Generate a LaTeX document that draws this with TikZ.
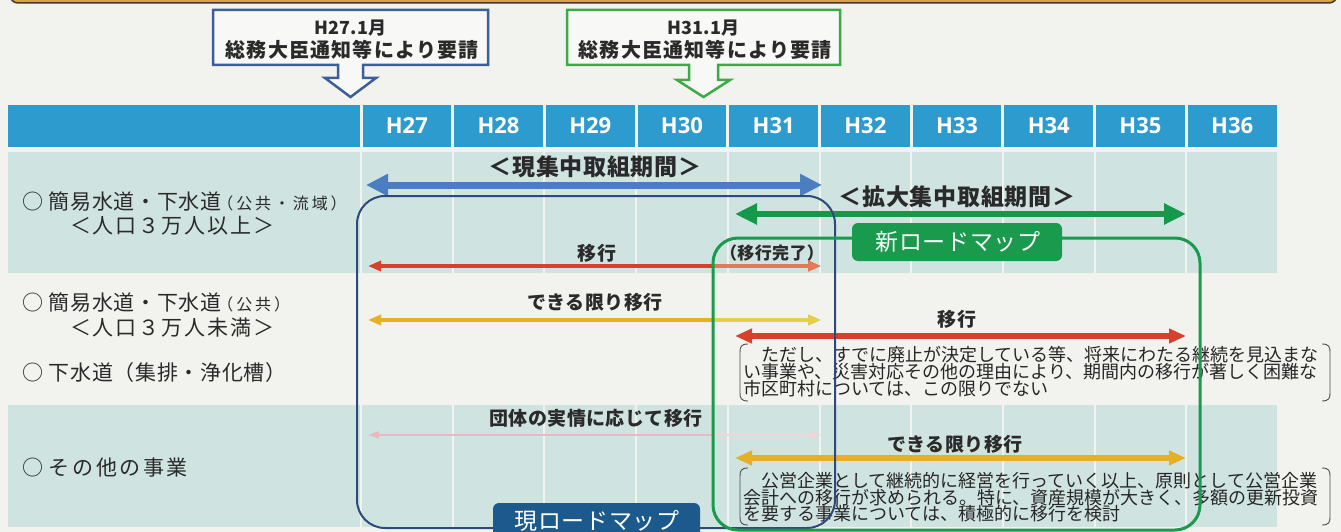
\documentclass[tikz,border=0pt]{standalone}
\usepackage{fontspec}
\setmainfont{Noto Sans CJK JP}
\newfontfamily\hdrfont{Open Sans}
\usetikzlibrary{arrows.meta}
\definecolor{paper}{HTML}{F2F2EE}
\definecolor{rowshade}{HTML}{CFE3E1}
\definecolor{hdrblue}{HTML}{2E9BCF}
\definecolor{coblue}{HTML}{3C5F97}
\definecolor{cogreen}{HTML}{3DAA4A}
\definecolor{arrblue}{HTML}{4A7EC0}
\definecolor{arrgreen}{HTML}{15984A}
\definecolor{boxblue}{HTML}{2C4A7A}
\definecolor{tagblue}{HTML}{1C5A8E}
\definecolor{boxgreen}{HTML}{1A9A4C}
\definecolor{arrred}{HTML}{D5412D}
\definecolor{arrorange}{HTML}{E27A58}
\definecolor{arryel}{HTML}{E6B024}
\definecolor{arryellight}{HTML}{E4D04C}
\definecolor{arrpink}{HTML}{E9B9C2}
\definecolor{arrpinklight}{HTML}{EFD6D9}
\definecolor{txt}{HTML}{2A2A2A}
\definecolor{gold}{HTML}{D7A548}
\definecolor{goldline}{HTML}{4A3B1E}
\begin{document}
\begin{tikzpicture}[x=1pt,y=-1pt,
  every node/.style={inner sep=0pt, outer sep=0pt, text=txt},
  hdrtxt/.style={font=\hdrfont\bfseries\fontsize{22}{22}\selectfont, text=white, anchor=base},
  rowlbl/.style={anchor=west, font=\fontsize{21}{21}\selectfont\addfontfeature{LetterSpace=3}},
  biglbl/.style={font=\bfseries\fontsize{23}{23}\selectfont\addfontfeature{LetterSpace=3}},
  midlbl/.style={font=\bfseries\fontsize{19}{19}\selectfont\addfontfeature{LetterSpace=2}},
  notetxt/.style={anchor=west, font=\fontsize{18}{18}\selectfont, text=black!85},
  cotitle/.style={font=\bfseries\fontsize{18}{18}\selectfont},
  cotext/.style={font=\bfseries\fontsize{20}{20}\selectfont\addfontfeature{LetterSpace=6}},
  tagtxt/.style={font=\fontsize{23}{23}\selectfont\addfontfeature{LetterSpace=3}, text=white},
  bracketline/.style={draw=black!70, line width=0.9pt},
  callout/.style={line width=2.5pt, fill=white!50!paper, line join=miter},
  bigbar/.style={line width=7pt, arrows={Triangle[length=22pt,width=21pt]-Triangle[length=22pt,width=21pt]}},
  greenbar/.style={draw=arrgreen, line width=6pt, arrows={Triangle[length=22pt,width=20pt]-Triangle[length=22pt,width=20pt]}},
  thinbar/.style={line width=4pt, arrows={Triangle[length=13pt,width=10pt]-Triangle[length=13pt,width=10pt]}},
  thinend/.style={line width=4pt, arrows={-Triangle[length=13pt,width=10pt]}},
  midbar/.style={line width=5.5pt, arrows={Triangle[length=17pt,width=14pt]-Triangle[length=17pt,width=14pt]}},
  faintbar/.style={line width=2.5pt, arrows={Triangle[length=11pt,width=7pt]-Triangle[length=11pt,width=7pt]}},
  faintend/.style={line width=2.5pt, arrows={-Triangle[length=11pt,width=7pt]}}
]
\useasboundingbox (0,0) rectangle (1341,532);
\clip (0,0) rectangle (1341,532);
\fill[paper] (0,0) rectangle (1341,532);
% top frame
\draw[fill=gold, draw=goldline, line width=1.5pt, rounded corners=8pt] (10,-30) rectangle (1337,3);

% callouts
\draw[callout, draw=coblue] (213,10) -- (488,10) -- (488,65) -- (363,65) -- (363,78) -- (376,78) -- (350.5,97) -- (325,78) -- (338,78) -- (338,65) -- (213,65) -- cycle;
\node[cotitle] (c1a) at (350.5,28) {H27.1月};
\node[cotext] (c1b) at (352,50) {総務大臣通知等により要請};
\draw[callout, draw=cogreen] (567,10) -- (840,10) -- (840,65) -- (718,65) -- (718,80) -- (730,80) -- (703.5,97) -- (677,80) -- (689,80) -- (689,65) -- (567,65) -- cycle;
\node[cotitle] (c2a) at (703.5,28) {H31.1月};
\node[cotext] (c2b) at (705,50) {総務大臣通知等により要請};

% header
\fill[hdrblue] (8,105) rectangle (360,147);
\foreach \i/\t in {0/H27,1/H28,2/H29,3/H30,4/H31,5/H32,6/H33,7/H34,8/H35,9/H36}{
  \fill[hdrblue] ({362.5+91.7*\i},105) rectangle ({359.5+91.7*(\i+1)},147);
  \node[hdrtxt] (h\i) at ({361+91.7*(\i+0.5)},134) {\t};
}
% shaded rows
\foreach \ya/\yb in {152/273,405/527}{
  \fill[rowshade] (8,\ya) rectangle (360,\yb);
  \foreach \i in {0,...,9}{
    \fill[rowshade] ({362+91.7*\i},\ya) rectangle ({360+91.7*(\i+1)},\yb);
  }
}

% row labels
\node[rowlbl] (r1a) at (22,202) {○\hspace{6pt}簡易水道・下水道\hspace{-4pt}{\fontsize{16}{16}\selectfont\addfontfeature{LetterSpace=18}（公共・流域）}};
\node[rowlbl] (r1b) at (70,226) {\addfontfeature{LetterSpace=9}＜人口３万人以上＞};
\node[rowlbl] (r2a) at (22,303) {○\hspace{6pt}簡易水道・下水道\hspace{-4pt}{\fontsize{16}{16}\selectfont\addfontfeature{LetterSpace=18}（公共）}};
\node[rowlbl] (r2b) at (70,328) {\addfontfeature{LetterSpace=9}＜人口３万人未満＞};
\node[rowlbl] (r3) at (22,373) {○\hspace{6pt}下水道（集排・浄化槽）};
\node[rowlbl] (r4) at (22,468) {○\hspace{6pt}\addfontfeature{LetterSpace=12}その他の事業};

% bar labels
\node[biglbl] (t1) at (595,167) {＜現集中取組期間＞};
\node[biglbl] (t2) at (957,197) {＜拡大集中取組期間＞};
\node[midlbl] (t3) at (597,253) {移行};
\node[midlbl] (t4) at (772,253) {\fontsize{17}{17}\selectfont（移行完了）};
\node[midlbl] (t5) at (595,302) {できる限り移行};
\node[midlbl] (t6) at (957,319) {移行};
\node[midlbl] (t7) at (596,418) {団体の実情に応じて移行};
\node[midlbl] (t8) at (955,444) {できる限り移行};

% bars
\coordinate (bs) at (366,185); \coordinate (be) at (822,185);
\draw[bigbar, draw=arrblue, fill=arrblue] (bs) -- (be);
\coordinate (gs) at (735,214); \coordinate (ge) at (1186,214);
\draw[greenbar, fill=arrgreen] (gs) -- (ge);
\coordinate (r1s) at (368,266); \coordinate (r1m) at (713,266); \coordinate (r1e) at (821,266);
\draw[thinbar, draw=arrred, fill=arrred] (r1s) -- (r1e);
\draw[thinend, draw=arrorange, fill=arrorange] (r1m) -- (r1e);
\coordinate (y1s) at (368,320); \coordinate (y1m) at (713,320); \coordinate (y1e) at (821,320);
\draw[thinbar, draw=arryel, fill=arryel] (y1s) -- (y1e);
\draw[thinend, draw=arryellight, fill=arryellight] (y1m) -- (y1e);
\coordinate (r2s) at (735,336); \coordinate (r2e) at (1186,336);
\draw[midbar, draw=arrred, fill=arrred] (r2s) -- (r2e);
\coordinate (ps) at (368,435); \coordinate (pm) at (713,435); \coordinate (pe) at (821,435);
\draw[faintbar, draw=arrpink, fill=arrpink] (ps) -- (pe);
\draw[faintend, draw=arrpinklight, fill=arrpinklight] (pm) -- (pe);
\coordinate (y2s) at (735,458); \coordinate (y2e) at (1186,458);
\draw[midbar, draw=arryel, fill=arryel] (y2s) -- (y2e);

% notes
\node[notetxt] (n1a) at (743,355) {　ただし、すでに廃止が決定している等、将来にわたる継続を見込まな};
\node[notetxt] (n1b) at (743,372) {い事業や、災害対応その他の理由により、期間内の移行が著しく困難な};
\node[notetxt] (n1c) at (743,389) {市区町村については、この限りでない};
\node[notetxt] (n2a) at (743,481) {　公営企業として継続的に経営を行っていく以上、原則として公営企業};
\node[notetxt] (n2b) at (743,498) {会計への移行が求められる。特に、資産規模が大きく、多額の更新投資};
\node[notetxt] (n2c) at (743,514) {を要する事業については、積極的に移行を検討};
\foreach \ya/\yb in {344/401,468/525}{
  \draw[bracketline] (748,\ya) .. controls (741,\ya) and (740,{\ya+3}) .. (740,{\ya+8}) -- (740,{\yb-8}) .. controls (740,{\yb-3}) and (741,\yb) .. (748,\yb);
  \draw[bracketline] (1322,\ya) .. controls (1329,\ya) and (1330,{\ya+3}) .. (1330,{\ya+8}) -- (1330,{\yb-8}) .. controls (1330,{\yb-3}) and (1329,\yb) .. (1322,\yb);
}

% roadmap boxes
\draw[boxblue, line width=2pt, rounded corners=28pt] (357,196) rectangle (835,528);
\draw[boxgreen, line width=3pt, rounded corners=25pt] (713,238) rectangle (1200,530);
\fill[tagblue, rounded corners=6pt] (493,503) rectangle (700,545);
\node[tagtxt] (tg1) at (597,521) {現ロードマップ};
\fill[boxgreen, rounded corners=6pt] (852,223) rectangle (1062,261);
\node[tagtxt] (tg2) at (958,242) {新ロードマップ};
\end{tikzpicture}
\end{document}
